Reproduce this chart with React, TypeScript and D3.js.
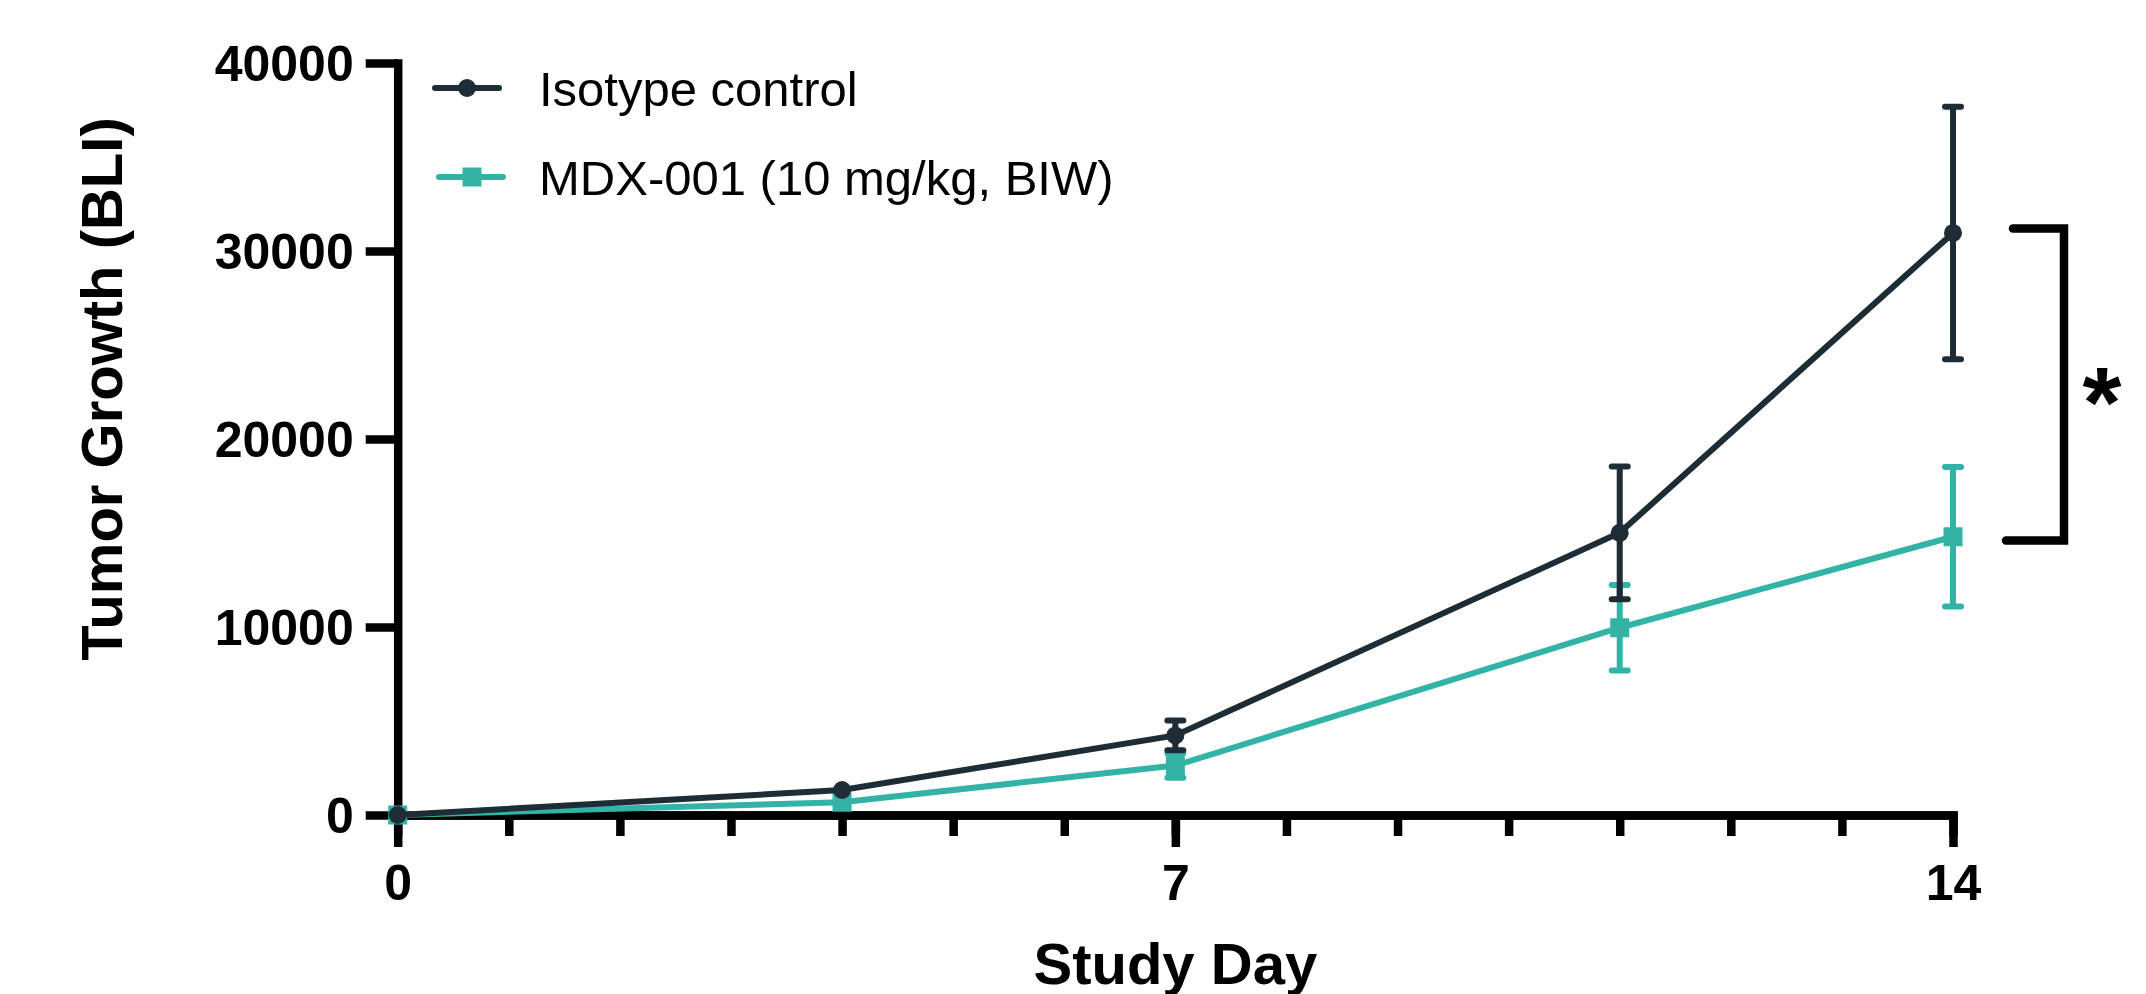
import React, { useEffect, useRef } from "react";
import * as d3 from "d3";

// study days and group means / SEM
const days = [0, 4, 7, 11, 14];
const isotypeMean = [0, 1330, 4230, 15010, 30960];
const isotypeSem = [0, 0, 790, 3530, 6715];
const mdxMean = [0, 680, 2630, 9960, 14800];
const mdxSem = [0, 0, 650, 2280, 3710];

const seriesNames = ["Isotype control", "MDX-001 (10 mg/kg, BIW)"];
const seriesColors = ["#1e2c35", "#33b3a5"];

const yTicks = [0, 10000, 20000, 30000, 40000];
const xMajorTicks = [0, 7, 14];
const xMinorTicks = d3.range(0, 15);

// significance bracket spans these two values at day 14
const bracketTop = 31200;
const bracketBottom = 14600;
const bracketLabel = "*";

const W = 2146, H = 994;
const FONT = "'Liberation Sans', Arial, Helvetica, sans-serif";

function App() {
  const ref = useRef<SVGSVGElement>(null);

  useEffect(() => {
    const svg = d3.select(ref.current);
    svg.selectAll("*").remove();

    const x = d3.scaleLinear().domain([0, 14]).range([397.7, 1953]);
    const y = d3.scaleLinear().domain([0, 40000]).range([815, 63]);

    // y axis
    const gy = svg.append("g")
      .attr("transform", "translate(" + x(0) + ",0)")
      .call(d3.axisLeft(y).tickValues(yTicks).tickSize(32).tickSizeOuter(0).tickPadding(12).tickFormat(d3.format("d")));

    // x axis, minor then major ticks
    svg.append("g")
      .attr("transform", "translate(0," + y(0) + ")")
      .call(d3.axisBottom(x).tickValues(xMinorTicks).tickSize(21).tickSizeOuter(0).tickFormat(() => ""));
    const gx = svg.append("g")
      .attr("transform", "translate(0," + y(0) + ")")
      .call(d3.axisBottom(x).tickValues(xMajorTicks).tickSize(32).tickSizeOuter(0).tickPadding(18).tickFormat(d3.format("d")));

    svg.selectAll(".domain").attr("stroke", "#000").attr("stroke-width", 8.5).attr("stroke-linecap", "square");
    svg.selectAll(".tick line").attr("stroke", "#000").attr("stroke-width", 8.5);
    svg.selectAll(".tick text")
      .attr("fill", "#000")
      .style("font-family", FONT)
      .style("font-weight", "bold")
      .style("font-size", "50px");
    gy.selectAll(".tick text").attr("dy", "0.34em");
    gx.selectAll(".tick text").attr("dy", "0.7em");

    const groups = [
      { mean: mdxMean, sem: mdxSem, color: seriesColors[1], shape: "square" },
      { mean: isotypeMean, sem: isotypeSem, color: seriesColors[0], shape: "circle" },
    ];

    const line = d3.line<number>()
      .x((d, i) => x(days[i]))
      .y(d => y(d));

    groups.forEach(g => {
      svg.append("path")
        .datum(g.mean)
        .attr("fill", "none")
        .attr("stroke", g.color)
        .attr("stroke-width", 6)
        .attr("d", line);

      const eb = svg.append("g").attr("stroke", g.color).attr("stroke-width", 6).attr("stroke-linecap", "round");
      g.mean.forEach((m, i) => {
        if (!g.sem[i]) return;
        const cx = x(days[i]);
        const y1 = y(m + g.sem[i]), y2 = y(m - g.sem[i]);
        eb.append("line").attr("x1", cx).attr("x2", cx).attr("y1", y1).attr("y2", y2).attr("stroke-linecap", "butt");
        eb.append("line").attr("x1", cx - 8).attr("x2", cx + 8).attr("y1", y1).attr("y2", y1);
        eb.append("line").attr("x1", cx - 8).attr("x2", cx + 8).attr("y1", y2).attr("y2", y2);
      });

      g.mean.forEach((m, i) => {
        if (g.shape === "circle") {
          svg.append("circle").attr("cx", x(days[i])).attr("cy", y(m)).attr("r", 9).attr("fill", g.color);
        } else {
          svg.append("rect").attr("x", x(days[i]) - 9.5).attr("y", y(m) - 9.5)
            .attr("width", 19).attr("height", 19).attr("fill", g.color);
        }
      });
    });

    // legend
    const legendRows = [
      { name: seriesNames[0], color: seriesColors[0], shape: "circle", cy: 88, x0: 435, mx: 467 },
      { name: seriesNames[1], color: seriesColors[1], shape: "square", cy: 177, x0: 439, mx: 472 },
    ];
    legendRows.forEach(r => {
      svg.append("line").attr("x1", r.x0).attr("x2", r.x0 + 64).attr("y1", r.cy).attr("y2", r.cy)
        .attr("stroke", r.color).attr("stroke-width", 6).attr("stroke-linecap", "round");
      if (r.shape === "circle") {
        svg.append("circle").attr("cx", r.mx).attr("cy", r.cy).attr("r", 9).attr("fill", r.color);
      } else {
        svg.append("rect").attr("x", r.mx - 9.5).attr("y", r.cy - 9.5).attr("width", 19).attr("height", 19).attr("fill", r.color);
      }
      svg.append("text").attr("x", 539).attr("y", r.cy + 17.5)
        .style("font-family", FONT).style("font-size", "49px").attr("fill", "#000")
        .text(r.name);
    });

    // significance bracket
    const bx = x(14) + 111;
    svg.append("path")
      .attr("d", "M" + (x(14) + 60) + "," + y(bracketTop) + "H" + bx + "V" + y(bracketBottom) + "H" + (x(14) + 53))
      .attr("fill", "none").attr("stroke", "#000").attr("stroke-width", 8.5)
      .attr("stroke-linecap", "round").attr("stroke-linejoin", "miter");
    svg.append("text")
      .attr("x", bx + 38).attr("y", (y(bracketTop) + y(bracketBottom)) / 2 + 53)
      .attr("text-anchor", "middle")
      .style("font-family", FONT).style("font-weight", "bold").style("font-size", "100px")
      .text(bracketLabel);

    // axis titles
    svg.append("text")
      .attr("x", x(7)).attr("y", 984)
      .attr("text-anchor", "middle")
      .style("font-family", FONT).style("font-weight", "bold").style("font-size", "58px")
      .text("Study Day");
    svg.append("text")
      .attr("transform", "translate(122,389) rotate(-90)")
      .attr("text-anchor", "middle")
      .style("font-family", FONT).style("font-weight", "bold").style("font-size", "58px")
      .text("Tumor Growth (BLI)");
  }, []);

  return (
    <svg ref={ref} width={W} height={H}
      style={{ position: "absolute", left: 0, top: 0, background: "#fff" }} />
  );
}

export default App;
